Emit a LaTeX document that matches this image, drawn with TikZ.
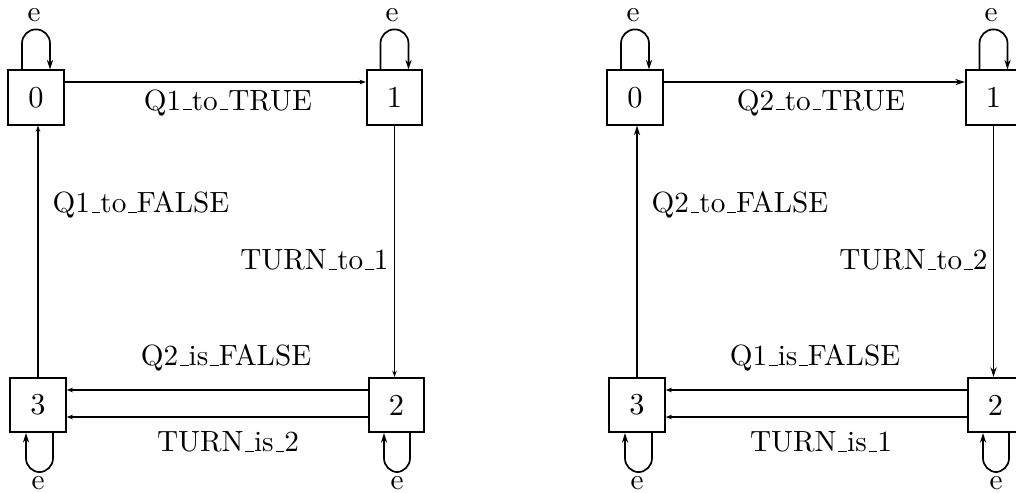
\documentclass[tikz,border=0pt]{standalone}
\usetikzlibrary{calc,arrows.meta}
\newcommand{\usc}{\leavevmode\kern.06em\vbox{\hrule width.3em}}
\begin{document}
\begin{tikzpicture}[x=0.3522pt,y=-0.3522pt,
  st/.style={draw, line width=0.6pt, minimum width=19.6pt, minimum height=19.2pt, inner sep=0pt, font=\fontsize{10.7}{13}\selectfont},
  lab/.style={inner sep=0pt, font=\fontsize{10.3}{13}\selectfont},
  edg/.style={line width=0.5pt, -{Stealth[length=2.2pt,width=1.6pt]}},
  edgb/.style={line width=0.5pt, -{Stealth[length=3.4pt,width=2.2pt]}},
  lp/.style={line width=0.6pt, rounded corners=4.9pt, -{Stealth[length=3.4pt,width=2.2pt]}}]
\useasboundingbox (0,0) rectangle (1016,492);
\clip (0,0) rectangle (1016,492);
% ---------- left diagram ----------
\node[st] (a0) at (36,97.5) {0};
\node[st] (a1) at (394.5,97.5) {1};
\node[st] (a2) at (396.5,405) {2};
\node[st] (a3) at (38,405) {3};
\draw[edg] ($(a0.east)+(0,-15.5)$) -- ($(a1.west)+(0,-15.5)$);
\draw[edg] (a1.south) -- (a1.south |- a2.north);
\draw[edg] (a3.north) -- (a3.north |- a0.south);
\draw[edg] ($(a2.west)+(0,-15)$) -- ($(a3.east)+(0,-15)$);
\draw[edg] ($(a2.west)+(0,12)$) -- ($(a3.east)+(0,12)$);
\node[lab] (la01) at (228,103) {Q1\usc to\usc TRUE};
\node[lab, anchor=west] (la30) at (52,205) {Q1\usc to\usc FALSE};
\node[lab, anchor=east] (la12) at (389,260) {TURN\usc to\usc 1};
\node[lab] (la23a) at (226,358) {Q2\usc is\usc FALSE};
\node[lab] (la23b) at (228,442) {TURN\usc is\usc 2};
\draw[lp] ($(a0.north)+(-14,0)$) -- ++(0,-40) -- ++(28,0) -- ($(a0.north)+(14,0)$);
\draw[lp] ($(a1.north)+(-14,0)$) -- ++(0,-40) -- ++(28,0) -- ($(a1.north)+(14,0)$);
\draw[lp] ($(a3.south)+(15,0)$) -- ++(0,39) -- ++(-27,0) -- ($(a3.south)+(-12,0)$);
\draw[lp] ($(a2.south)+(13.5,0)$) -- ++(0,39) -- ++(-26,0) -- ($(a2.south)+(-12.5,0)$);
\node[lab] (ea0) at (34,15) {e};
\node[lab] (ea1) at (392,15) {e};
\node[lab] (ea3) at (38,483) {e};
\node[lab] (ea2) at (397,483) {e};
% ---------- right diagram ----------
\begin{scope}[shift={(599,0)}]
\node[st] (b0) at (36,97.5) {0};
\node[st] (b1) at (394.5,97.5) {1};
\node[st] (b2) at (396.5,405) {2};
\node[st] (b3) at (38,405) {3};
\draw[edgb] ($(b0.east)+(0,-15.5)$) -- ($(b1.west)+(0,-15.5)$);
\draw[edgb] (b1.south) -- (b1.south |- b2.north);
\draw[edgb] (b3.north) -- (b3.north |- b0.south);
\draw[edg] ($(b2.west)+(0,-15)$) -- ($(b3.east)+(0,-15)$);
\draw[edg] ($(b2.west)+(0,12)$) -- ($(b3.east)+(0,12)$);
\node[lab] (lb01) at (222,103) {Q2\usc to\usc TRUE};
\node[lab, anchor=west] (lb30) at (52,205) {Q2\usc to\usc FALSE};
\node[lab, anchor=east] (lb12) at (389,260) {TURN\usc to\usc 2};
\node[lab] (lb23a) at (216,358) {Q1\usc is\usc FALSE};
\node[lab] (lb23b) at (222,442) {TURN\usc is\usc 1};
\draw[lp] ($(b0.north)+(-14,0)$) -- ++(0,-40) -- ++(28,0) -- ($(b0.north)+(14,0)$);
\draw[lp] ($(b1.north)+(-14,0)$) -- ++(0,-40) -- ++(28,0) -- ($(b1.north)+(14,0)$);
\draw[lp] ($(b3.south)+(15,0)$) -- ++(0,39) -- ++(-27,0) -- ($(b3.south)+(-12,0)$);
\draw[lp] ($(b2.south)+(13.5,0)$) -- ++(0,39) -- ++(-26,0) -- ($(b2.south)+(-12.5,0)$);
\node[lab] (eb0) at (34,15) {e};
\node[lab] (eb1) at (392,15) {e};
\node[lab] (eb3) at (38,483) {e};
\node[lab] (eb2) at (397,483) {e};
\end{scope}
\end{tikzpicture}
\end{document}
